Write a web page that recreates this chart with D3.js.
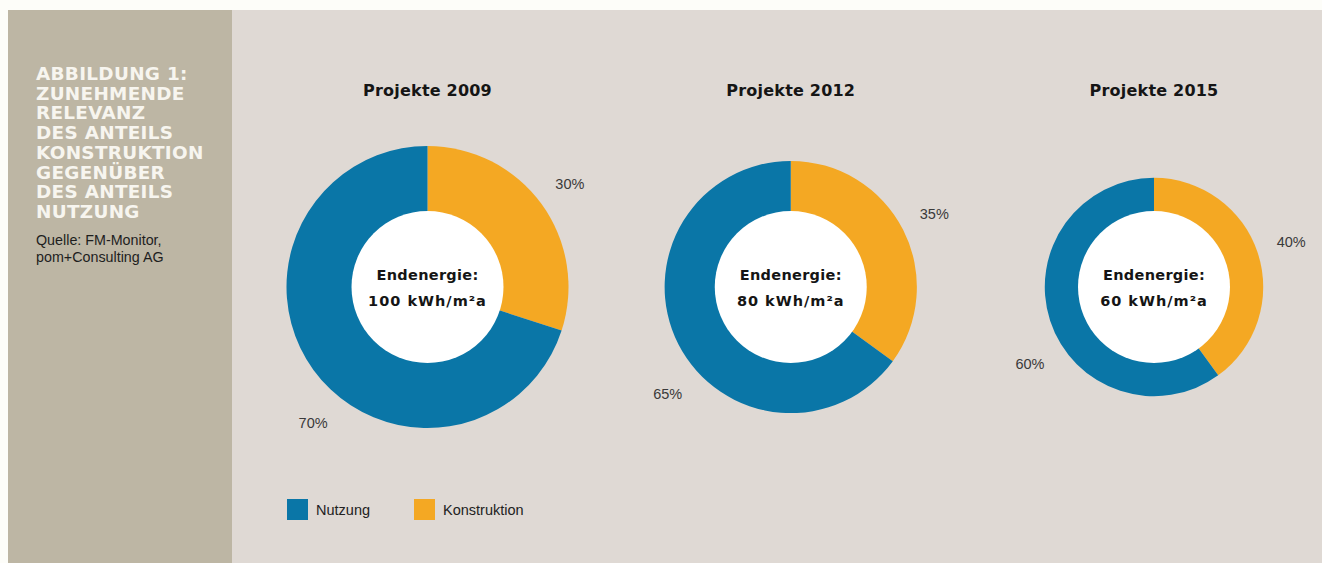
<!DOCTYPE html>
<html><head><meta charset="utf-8">
<script src="https://cdn.jsdelivr.net/npm/d3@7/dist/d3.min.js"></script>
<style>
html,body{margin:0;padding:0;background:#fdfdf9;overflow:hidden;}
svg{display:block;}
</style></head>
<body>
<svg id="chart" width="1322" height="563"></svg>
<script>
// ---- data ----
const years = ["2009", "2012", "2015"];
const titles = ["Projekte 2009", "Projekte 2012", "Projekte 2015"];
const endenergie = [100, 80, 60];           // kWh/m²a
const nutzung = [70, 65, 60];               // %
const konstruktion = [30, 35, 40];          // %
const seriesNames = ["Nutzung", "Konstruktion"];
const figureTitle = ["ABBILDUNG 1:", "ZUNEHMENDE", "RELEVANZ", "DES ANTEILS", "KONSTRUKTION", "GEGENÜBER", "DES ANTEILS", "NUTZUNG"];
const sourceLines = ["Quelle: FM-Monitor,", "pom+Consulting AG"];

const colors = {Nutzung: "#0a76a7", Konstruktion: "#f4a823"};

const svg = d3.select("#chart");
// backgrounds
svg.append("rect").attr("x", 8).attr("y", 10).attr("width", 1314).attr("height", 553).attr("fill", "#dfd9d4");
svg.append("rect").attr("x", 8).attr("y", 10).attr("width", 224).attr("height", 553).attr("fill", "#bdb6a4");

// left panel text
const tt = svg.append("text").attr("x", 36).attr("y", 80)
  .attr("fill", "#f7f5ef").attr("font-family", "'DejaVu Sans', sans-serif")
  .attr("font-weight", "bold").attr("font-size", 18.4).attr("letter-spacing", 0.3);
figureTitle.forEach((l, i) => tt.append("tspan").attr("x", 36).attr("dy", i === 0 ? 0 : 19.7).text(l));
const st = svg.append("text").attr("x", 36).attr("y", 245)
  .attr("fill", "#1e1e1e").attr("font-family", "'Liberation Sans', Arial, sans-serif")
  .attr("font-size", 14.3);
sourceLines.forEach((l, i) => st.append("tspan").attr("x", 36).attr("dy", i === 0 ? 0 : 16.5).text(l));

// scales
const x = d3.scalePoint().domain(years).range([427.5, 1154]);
const rScale = d3.scaleSqrt().domain([0, 100]).range([0, 141]);
const innerR = 76;
const cy = 287;

const pie = d3.pie().sort(null).value(d => d.value);

years.forEach((yr, i) => {
  const g = svg.append("g").attr("transform", `translate(${x(yr)},${cy})`);
  const R = rScale(endenergie[i]);
  const data = [
    {name: "Konstruktion", value: konstruktion[i]},
    {name: "Nutzung", value: nutzung[i]}
  ];
  const arcs = pie(data);
  const arc = d3.arc().innerRadius(0).outerRadius(R);
  g.selectAll("path.slice").data(arcs).join("path")
    .attr("class", "slice").attr("d", arc).attr("fill", d => colors[d.data.name]);
  g.append("circle").attr("r", innerR).attr("fill", "#ffffff");

  // percent labels
  arcs.forEach(a => {
    const off = a.data.name === "Nutzung" ? -14 * Math.PI / 180 : 0;
    const ang = (a.startAngle + a.endAngle) / 2 + off;
    const lr = R + (a.data.name === "Nutzung" ? 37 : 35);
    g.append("text")
      .attr("x", Math.sin(ang) * lr).attr("y", -Math.cos(ang) * lr)
      .attr("text-anchor", "middle").attr("dominant-baseline", "central")
      .attr("font-family", "'Liberation Sans', Arial, sans-serif").attr("font-size", 14.5)
      .attr("fill", "#3a3a3a").text(a.data.value + "%");
  });

  // center text
  g.append("text").attr("y", -7).attr("text-anchor", "middle")
    .attr("font-family", "'DejaVu Sans', sans-serif").attr("font-weight", "bold")
    .attr("font-size", 14.5).attr("letter-spacing", 0.3).attr("fill", "#151515").text("Endenergie:");
  g.append("text").attr("y", 19).attr("text-anchor", "middle")
    .attr("font-family", "'DejaVu Sans', sans-serif").attr("font-weight", "bold")
    .attr("font-size", 14.5).attr("letter-spacing", 1).attr("fill", "#151515")
    .text(endenergie[i] + " kWh/m²a");

  // title
  svg.append("text").attr("x", x(yr)).attr("y", 96).attr("text-anchor", "middle")
    .attr("font-family", "'DejaVu Sans', sans-serif").attr("font-weight", "bold")
    .attr("font-size", 16).attr("letter-spacing", 0.2).attr("fill", "#151515").text(titles[i]);
});

// legend
const legX = d3.scalePoint().domain(seriesNames).range([287, 414]);
seriesNames.forEach(n => {
  svg.append("rect").attr("x", legX(n)).attr("y", 499).attr("width", 21).attr("height", 21)
    .attr("fill", colors[n]);
  svg.append("text").attr("x", legX(n) + 29).attr("y", 510).attr("dominant-baseline", "central")
    .attr("font-family", "'Liberation Sans', Arial, sans-serif").attr("font-size", 14.5)
    .attr("fill", "#222").text(n);
});
</script>
</body></html>
